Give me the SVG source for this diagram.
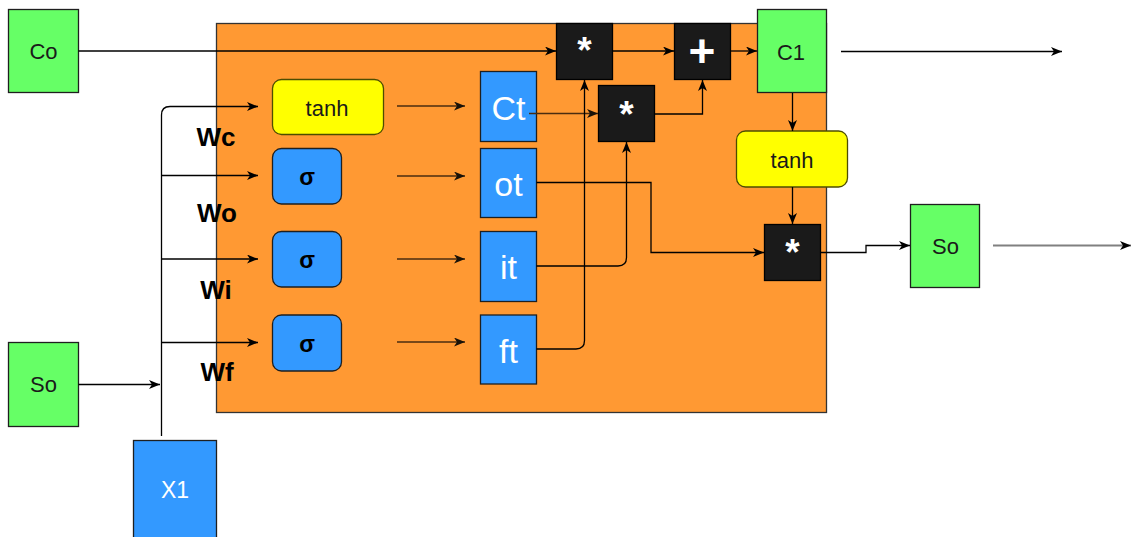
<svg xmlns="http://www.w3.org/2000/svg" width="1132" height="537" viewBox="0 0 1132 537">
<style>
  text { font-family: "Liberation Sans", Arial, sans-serif; text-anchor: middle; }
  .green { fill: #66FF66; stroke: #1f1f1f; stroke-width: 1.3; }
  .blue { fill: #3399FF; stroke: #1f1f1f; stroke-width: 1.3; }
  .yellow { fill: #FFFF00; stroke: #4d4d00; stroke-width: 1.3; }
  .op { fill: #1A1A1A; stroke: #000; stroke-width: 1.3; }
  .dark { fill: #1a1a1a; font-size: 22px; }
  .white { fill: #fff; font-size: 34px; }
  .sig { fill: #000; font-size: 23px; font-weight: bold; }
  .opt { fill: #fff; font-weight: bold; }
  .lbl { fill: #000; font-size: 26px; font-weight: bold; }
  .c { fill: none; stroke: #000; stroke-width: 1.3; marker-end: url(#arr); }
  .cb { fill: none; stroke: #4a2c10; stroke-width: 1.3; marker-end: url(#arrb); }
</style>
<defs>
  <marker id="arr" markerUnits="userSpaceOnUse" markerWidth="13" markerHeight="11" refX="11" refY="4.5" orient="auto">
    <path d="M0,0 L11,4.5 L0,9 L3,4.5 Z" fill="#000"/>
  </marker>
  <marker id="arrb" markerUnits="userSpaceOnUse" markerWidth="13" markerHeight="11" refX="11" refY="4.5" orient="auto">
    <path d="M0,0 L11,4.5 L0,9 L3,4.5 Z" fill="#1a1208"/>
  </marker>
</defs>

<g id="cell">
  <rect x="216.5" y="23.5" width="610" height="389" fill="#FF9933" stroke="#333" stroke-width="1.3"/>
</g>

<g id="Co"><rect class="green" x="8.5" y="9.5" width="70" height="83"/><text class="dark" x="43.5" y="59">Co</text></g>
<g id="So_in"><rect class="green" x="8.5" y="342.5" width="70" height="84"/><text class="dark" x="43.5" y="392" font-size="23">So</text></g>
<g id="X1"><rect class="blue" x="133.5" y="440.5" width="83" height="98"/><text x="175" y="497.5" style="fill:#fff;font-size:23px">X1</text></g>

<g id="tanh1"><rect class="yellow" x="272.5" y="79.5" width="111" height="55" rx="9"/><text class="dark" x="327" y="116" font-size="24">tanh</text></g>
<g id="sig_o"><rect class="blue" x="272.5" y="148.5" width="69" height="55.5" rx="9"/><text class="sig" x="307" y="185">σ</text></g>
<g id="sig_i"><rect class="blue" x="272.5" y="231.5" width="69" height="55.5" rx="9"/><text class="sig" x="307" y="268">σ</text></g>
<g id="sig_f"><rect class="blue" x="272.5" y="315" width="69" height="56" rx="9"/><text class="sig" x="307" y="352">σ</text></g>

<g id="Ct"><rect class="blue" x="480.5" y="71.5" width="56" height="70"/><text class="white" x="508.5" y="119.5">Ct</text></g>
<g id="ot"><rect class="blue" x="480.5" y="148.5" width="56" height="69"/><text class="white" x="508.5" y="196">ot</text></g>
<g id="it"><rect class="blue" x="480.5" y="231.5" width="56" height="70"/><text class="white" x="508.5" y="279">it</text></g>
<g id="ft"><rect class="blue" x="480.5" y="315" width="56" height="69"/><text class="white" x="508.5" y="362.5">ft</text></g>

<g id="mul1"><rect class="op" x="556.5" y="23.5" width="56" height="56"/><text class="opt" x="584.5" y="63" font-size="37">*</text></g>
<g id="mul2"><rect class="op" x="598.5" y="85.5" width="56" height="56"/><text class="opt" x="626.5" y="126.5" font-size="37">*</text></g>
<g id="add"><rect class="op" x="674.5" y="23.5" width="56" height="56"/><text class="opt" x="702" y="67" font-size="46">+</text></g>
<g id="C1"><rect class="green" x="757.5" y="9.5" width="69" height="83"/><text class="dark" x="791" y="59.5">C1</text></g>
<g id="tanh2"><rect class="yellow" x="736.5" y="131" width="111" height="56" rx="9"/><text class="dark" x="792" y="167.5" font-size="24">tanh</text></g>
<g id="mul3"><rect class="op" x="764.5" y="224.5" width="56" height="56"/><text class="opt" x="792.5" y="265" font-size="37">*</text></g>
<g id="So_out"><rect class="green" x="910.5" y="204.5" width="69" height="83"/><text class="dark" x="945.5" y="253.5" font-size="23">So</text></g>

<g id="connectors">
  <path class="c" d="M78.5,51 H556"/>
  <path class="c" d="M612.5,51 H674"/>
  <path class="c" d="M730.5,51 H757"/>
  <path class="c" d="M841,51.5 H1062"/>
  <path d="M993,245.5 H1131" fill="none" stroke="#808080" stroke-width="2.2" marker-end="url(#arr)"/>
  <path class="c" d="M78.5,384.5 H160"/>
  <path d="M161.5,436 V115" fill="none" stroke="#000" stroke-width="1.3"/>
  <path class="c" d="M161.5,115 Q161.5,106.5 170,106.5 H258"/>
  <path class="c" d="M161.5,175.5 H258"/>
  <path class="c" d="M161.5,259 H258"/>
  <path class="c" d="M161.5,342.5 H258"/>
  <path class="cb" d="M397,106 H465"/>
  <path class="cb" d="M397,176 H465"/>
  <path class="cb" d="M397,259 H465"/>
  <path class="cb" d="M397,342 H465"/>
  <path class="cb" d="M529,113.5 H598"/>
  <path class="c" d="M654.5,114 H702.5 V80"/>
  <path class="c" d="M536.5,349 H576 Q584.5,349 584.5,340.5 V80"/>
  <path class="c" d="M536.5,266 H618 Q626.5,266 626.5,257.5 V142"/>
  <path class="c" d="M536.5,182.5 H651 V252.5 H764"/>
  <path class="c" d="M792.5,93 V131"/>
  <path class="c" d="M792.5,187 V224"/>
  <path class="c" d="M820.5,252.5 H866 V245.5 H910"/>
</g>

<g id="labels">
  <text class="lbl" x="216" y="146">Wc</text>
  <text class="lbl" x="217" y="221.5">Wo</text>
  <text class="lbl" x="216" y="299">Wi</text>
  <text class="lbl" x="217" y="381">Wf</text>
</g>
</svg>
